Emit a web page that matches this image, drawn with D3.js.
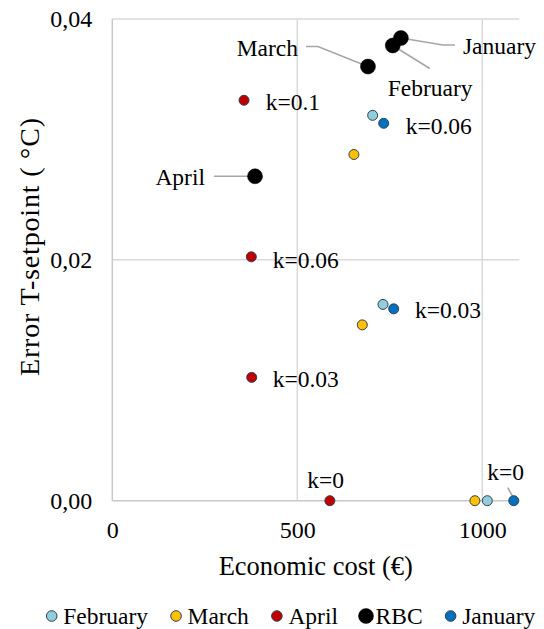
<!DOCTYPE html>
<html><head><meta charset="utf-8">
<script src="https://cdn.jsdelivr.net/npm/d3@7"></script>
<style>body{margin:0;background:#fff}</style>
</head><body>
<svg id="chart" width="544" height="629" font-family="Liberation Serif"></svg>
<script>
// ---- data ----
const seriesNames = ["February", "March", "April", "RBC", "January"];
const seriesColors = ["#92CDDC", "#FFC000", "#C00000", "#000000", "#0070C0"];
const febX = [703.7, 731.6, 1013.5];
const febY = [0.0320, 0.0163, 0.0];
const marX = [653, 675.7, 980];
const marY = [0.02875, 0.0146, 0.0];
const aprX = [356, 375.7, 376.8, 588];
const aprY = [0.03325, 0.02025, 0.01024, 0.0];
const aprLabels = ["k=0.1", "k=0.06", "k=0.03", "k=0"];
const rbcX = [780, 758, 691, 385.7];
const rbcY = [0.03842, 0.0378, 0.03605, 0.02694];
const rbcLabels = ["January", "February", "March", "April"];
const janX = [733.5, 760.5, 1085];
const janY = [0.03134, 0.01593, 0.0];
const janLabels = ["k=0.06", "k=0.03", "k=0"];
const xTicks = [0, 500, 1000];
const yTicks = [0, 0.02, 0.04];
const xTitle = "Economic cost (€)";
const yTitle = "Error T-setpoint ( °C)";

// ---- layout ----
const FONT = "Liberation Serif";
const svg = d3.select("#chart");
const L = 112.3, R = 519.3, T = 19, B = 500.7;
const x = d3.scaleLinear().domain([0, 1100]).range([L, R]);
const y = d3.scaleLinear().domain([0, 0.04]).range([B, T]);
const grid = "#d9d9d9";

// gridlines
svg.append("g").selectAll("line").data(yTicks.filter(d => d > 0)).join("line")
  .attr("x1", L).attr("x2", R).attr("y1", d => y(d)).attr("y2", d => y(d))
  .attr("stroke", grid).attr("stroke-width", 1.5);
svg.append("g").selectAll("line").data(xTicks.filter(d => d > 0)).join("line")
  .attr("y1", T).attr("y2", B).attr("x1", d => x(d)).attr("x2", d => x(d))
  .attr("stroke", grid).attr("stroke-width", 1.5);
// axis lines
svg.append("line").attr("x1", L).attr("x2", L).attr("y1", T).attr("y2", B)
  .attr("stroke", "#c8c8c8").attr("stroke-width", 1.5);
svg.append("line").attr("x1", L).attr("x2", R).attr("y1", B).attr("y2", B)
  .attr("stroke", "#c8c8c8").attr("stroke-width", 1.5);

// axes (labels)
const fmtY = d => d.toFixed(2).replace(".", ",");
const gx = svg.append("g").attr("transform", `translate(0,${B})`)
  .call(d3.axisBottom(x).tickValues(xTicks).tickSize(0).tickPadding(20).tickFormat(d3.format("d")));
const gy = svg.append("g").attr("transform", `translate(${L},0)`)
  .call(d3.axisLeft(y).tickValues(yTicks).tickSize(0).tickPadding(20).tickFormat(fmtY));
[gx, gy].forEach(g => {
  g.attr("font-family", FONT).attr("font-size", 24);
  g.select(".domain").remove();
  g.selectAll("text").attr("font-size", 24).attr("font-family", FONT).attr("fill", "#000");
});

// titles
svg.append("text").attr("x", (L + R) / 2).attr("y", 575).attr("text-anchor", "middle")
  .attr("font-family", FONT).attr("font-size", 26.5).text(xTitle);
svg.append("text").attr("transform", `translate(39,247) rotate(-90)`)
  .attr("text-anchor", "middle").attr("font-family", FONT).attr("font-size", 28)
  .attr("textLength", 258).attr("lengthAdjust", "spacing").text(yTitle);

// leader lines (drawn below markers)
const leader = "#a6a6a6";
const lineG = svg.append("g").attr("fill", "none").attr("stroke", leader).attr("stroke-width", 1.6);
function pts(arr) { return arr.map(p => p.join(",")).join(" "); }
// RBC January
let p = [x(rbcX[0]), y(rbcY[0])];
lineG.append("polyline").attr("points", pts([p, [p[0] + 42, p[1] + 7], [p[0] + 54, p[1] + 7]]));
// RBC February
p = [x(rbcX[1]), y(rbcY[1])];
lineG.append("polyline").attr("points", pts([p, [p[0] + 37, p[1] + 23]]));
// RBC March
p = [x(rbcX[2]), y(rbcY[2])];
lineG.append("polyline").attr("points", pts([p, [p[0] - 50, p[1] - 20], [p[0] - 62, p[1] - 20]]));
// RBC April
p = [x(rbcX[3]), y(rbcY[3])];
lineG.append("polyline").attr("points", pts([p, [p[0] - 41, p[1]]]));
// January k=0
p = [x(janX[2]), y(janY[2])];
lineG.append("polyline").attr("points", pts([[p[0] - 6, p[1] - 13], [p[0] - 0.5, p[1] - 3]]));

// markers
const seriesX = [febX, marX, aprX, rbcX, janX];
const seriesY = [febY, marY, aprY, rbcY, janY];
seriesNames.forEach((name, i) => {
  const data = seriesX[i].map((v, j) => [v, seriesY[i][j]]);
  const isRBC = name === "RBC";
  svg.append("g").selectAll("circle").data(data).join("circle")
    .attr("cx", d => x(d[0])).attr("cy", d => y(d[1]))
    .attr("r", isRBC ? 7.5 : 5)
    .attr("fill", seriesColors[i])
    .attr("stroke", isRBC ? "#000" : "#33404f").attr("stroke-width", isRBC ? 0.5 : 1);
});

// data labels
const fs = 23.5;
function label(px, py, dx, dy, txt, anchor) {
  svg.append("text").attr("x", px + dx).attr("y", py + dy).attr("dy", "0.35em")
    .attr("text-anchor", anchor).attr("font-family", FONT).attr("font-size", fs).text(txt);
}
// April k-labels
label(x(aprX[0]), y(aprY[0]), 21.7, 1.7, aprLabels[0], "start");
label(x(aprX[1]), y(aprY[1]), 21.4, 2.6, aprLabels[1], "start");
label(x(aprX[2]), y(aprY[2]), 21, 1, aprLabels[2], "start");
label(x(aprX[3]), y(aprY[3]), -4.3, -21.4, aprLabels[3], "middle");
// January k-labels
label(x(janX[0]), y(janY[0]), 22, 2, janLabels[0], "start");
label(x(janX[1]), y(janY[1]), 21.3, 1.3, janLabels[1], "start");
label(x(janX[2]), y(janY[2]), -8, -29, janLabels[2], "middle");
// RBC labels
label(x(rbcX[0]), y(rbcY[0]), 62, 8, rbcLabels[0], "start");
label(x(rbcX[1]), y(rbcY[1]), -5, 42.5, rbcLabels[1], "start");
label(x(rbcX[2]), y(rbcY[2]), -70, -19, rbcLabels[2], "end");
label(x(rbcX[3]), y(rbcY[3]), -50, 0, rbcLabels[3], "end");

// legend
const lg = svg.append("g");
let cx = 51.7;
const ly = 616;
seriesNames.forEach((name, i) => {
  const isRBC = name === "RBC";
  lg.append("circle").attr("cx", cx).attr("cy", ly).attr("r", isRBC ? 7.5 : 5.3)
    .attr("fill", seriesColors[i]).attr("stroke", isRBC ? "#000" : "#33404f")
    .attr("stroke-width", isRBC ? 0.5 : 1);
  const tx = cx + (isRBC ? 9.6 : 11.5);
  const t = lg.append("text").attr("x", tx).attr("y", ly).attr("dy", "0.35em")
    .attr("font-family", FONT).attr("font-size", fs).text(name);
  const w = t.node().getComputedTextLength();
  cx = tx + w + 28;
});
</script>
</body></html>
